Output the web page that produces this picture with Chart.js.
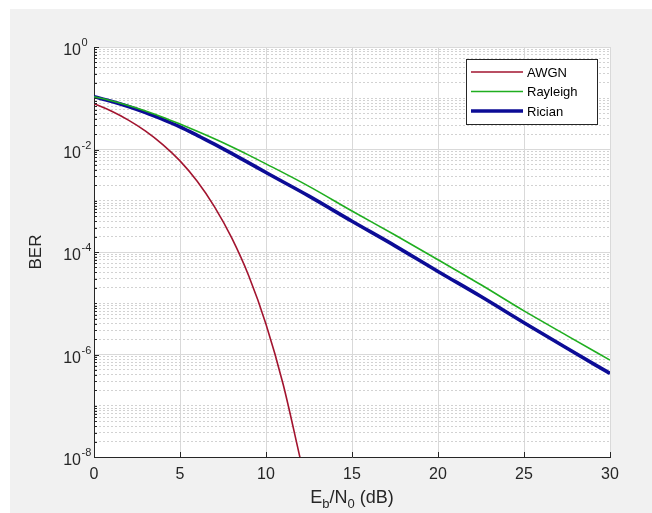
<!DOCTYPE html>
<html>
<head>
<meta charset="utf-8">
<script src="https://cdn.jsdelivr.net/npm/chart.js@4.4.0/dist/chart.umd.min.js"></script>
<style>
  body { margin: 0; background: #fff; }
</style>
</head>
<body>
<canvas id="berChart" width="652" height="513"></canvas>
<script>
// values
const snrAwgn = [0, 1, 2, 3, 4, 5, 6, 7, 8, 9, 10, 11, 12];
const berAwgn = [0.0786, 0.0563, 0.0375, 0.0229, 0.0125, 0.0060, 0.0024, 7.7e-4, 1.9e-4, 3.4e-5, 3.9e-6, 2.6e-7, 9.0e-9];

const snrFading = [0, 1, 2, 3, 4, 5, 6, 7, 8, 9, 10, 12.5, 15, 17.5, 20, 22.5, 25, 27.5, 30];
const berRayleigh = [0.1072, 0.0895, 0.0723, 0.0565, 0.0428, 0.0313, 0.0226, 0.01614, 0.0113, 7.76e-3, 5.25e-3,
    1.91e-3, 6.31e-4, 2.14e-4, 7.08e-5, 2.29e-5, 7.08e-6, 2.34e-6, 7.76e-7];
const berRician = [0.1072, 0.0875, 0.0689, 0.0525, 0.0386, 0.0277, 0.0189, 0.01268, 8.41e-3, 5.5e-3, 3.55e-3,
    1.23e-3, 3.98e-4, 1.32e-4, 4.17e-5, 1.35e-5, 4.17e-6, 1.32e-6, 4.27e-7];

const xTicks = [0, 5, 10, 15, 20, 25, 30];
const yExponents = [0, -2, -4, -6, -8];
const seriesNames = ['AWGN', 'Rayleigh', 'Rician'];
const seriesColors = ['#a2142f', '#1fae1f', '#0c0c96'];
const seriesWidths = [1.6, 1.6, 3.6];

const FONT = '"Liberation Sans", Arial, Helvetica, sans-serif';

function toPoints(xs, ys) {
    return xs.map((x, i) => ({x: x, y: ys[i]}));
}

function isMajor(v) {
    const l = Math.log10(v);
    const r = Math.round(l);
    return Math.abs(l - r) < 1e-6 && r % 2 === 0;
}

// text with subscript parts, centred on cx
function drawParts(ctx, parts, cx, baseline, size) {
    const subSize = Math.round(size * 0.72);
    let w = 0;
    parts.forEach(p => {
        ctx.font = (p.sub ? subSize : size) + 'px ' + FONT;
        p.w = ctx.measureText(p.t).width;
        w += p.w;
    });
    let x = cx - w / 2;
    ctx.textAlign = 'left';
    ctx.textBaseline = 'alphabetic';
    parts.forEach(p => {
        ctx.font = (p.sub ? subSize : size) + 'px ' + FONT;
        ctx.fillText(p.t, x, p.sub ? baseline + 5 : baseline);
        x += p.w;
    });
}

const decorations = {
    id: 'decorations',
    beforeDraw(chart) {
        const {ctx, chartArea: a} = chart;
        ctx.save();
        ctx.fillStyle = '#ffffff';
        ctx.fillRect(0, 0, chart.width, chart.height);
        ctx.fillStyle = '#f1f1f1';
        ctx.fillRect(10, 9, chart.width - 10, chart.height - 9);
        ctx.fillStyle = '#ffffff';
        ctx.fillRect(a.left, a.top, a.right - a.left, a.bottom - a.top);
        ctx.restore();
    },
    afterDraw(chart) {
        const {ctx, chartArea: a} = chart;
        const xs = chart.scales.x;
        const ys = chart.scales.y;
        ctx.save();

        // inward tick marks
        ctx.strokeStyle = '#262626';
        ctx.lineWidth = 1;
        ctx.beginPath();
        ys.ticks.forEach(t => {
            const y = Math.round(ys.getPixelForValue(t.value)) + 0.5;
            const len = isMajor(t.value) ? 5 : 3;
            ctx.moveTo(a.left, y);
            ctx.lineTo(a.left + len, y);
        });
        xTicks.forEach(v => {
            const x = Math.round(xs.getPixelForValue(v)) + 0.5;
            ctx.moveTo(x, a.bottom);
            ctx.lineTo(x, a.bottom - 5);
        });
        ctx.stroke();

        // tick labels
        ctx.fillStyle = '#262626';
        ctx.font = '16px ' + FONT;
        ctx.textAlign = 'center';
        ctx.textBaseline = 'middle';
        xTicks.forEach(v => {
            ctx.fillText(String(v), xs.getPixelForValue(v), a.bottom + 18);
        });
        yExponents.forEach(e => {
            const y = ys.getPixelForValue(Math.pow(10, e));
            ctx.font = '16px ' + FONT;
            ctx.textAlign = 'right';
            ctx.textBaseline = 'middle';
            ctx.fillText('10', 81, y + 4);
            ctx.font = '11px ' + FONT;
            ctx.textAlign = 'left';
            ctx.fillText(String(e), 81.5, y - 4);
        });

        // axis titles
        drawParts(ctx, [{t: 'E'}, {t: 'b', sub: true}, {t: '/N'}, {t: '0', sub: true}, {t: ' (dB)'}],
            (a.left + a.right) / 2, 503, 18);
        ctx.save();
        ctx.translate(36, (a.top + a.bottom) / 2);
        ctx.rotate(-Math.PI / 2);
        ctx.font = '17px ' + FONT;
        ctx.textAlign = 'center';
        ctx.textBaseline = 'middle';
        ctx.fillText('BER', 0, 0);
        ctx.restore();

        // legend
        const lx = 466, ly = 59, lw = 131, lh = 65;
        ctx.fillStyle = '#ffffff';
        ctx.fillRect(lx, ly, lw, lh);
        ctx.strokeStyle = '#262626';
        ctx.lineWidth = 1;
        ctx.strokeRect(lx + 0.5, ly + 0.5, lw, lh);
        seriesNames.forEach((name, i) => {
            const y = ly + 13 + i * 19.5;
            ctx.strokeStyle = seriesColors[i];
            ctx.lineWidth = seriesWidths[i];
            ctx.beginPath();
            ctx.moveTo(lx + 5, y);
            ctx.lineTo(lx + 57, y);
            ctx.stroke();
            ctx.fillStyle = '#000000';
            ctx.font = '13px ' + FONT;
            ctx.textAlign = 'left';
            ctx.textBaseline = 'middle';
            ctx.fillText(name, lx + 61, y + 1);
        });
        ctx.restore();
    }
};

const ctx = document.getElementById('berChart').getContext('2d');
const berChart = new Chart(ctx, {
    type: 'line',
    data: {
        datasets: [
            {label: seriesNames[0], data: toPoints(snrAwgn, berAwgn)},
            {label: seriesNames[1], data: toPoints(snrFading, berRayleigh)},
            {label: seriesNames[2], data: toPoints(snrFading, berRician)}
        ].map((d, i) => Object.assign(d, {
            borderColor: seriesColors[i],
            borderWidth: seriesWidths[i],
            pointRadius: 0,
            fill: false,
            cubicInterpolationMode: 'monotone'
        }))
    },
    options: {
        responsive: false,
        animation: false,
        layout: {
            padding: {left: 94, top: 47, right: 42, bottom: 56}
        },
        plugins: {
            legend: {display: false},
            tooltip: {enabled: false}
        },
        scales: {
            x: {
                type: 'linear',
                min: 0,
                max: 30,
                ticks: {display: false, stepSize: 5},
                grid: {
                    drawTicks: false,
                    color: c => (c.tick && c.tick.value === 0) ? 'rgba(0,0,0,0)' : '#d9d9d9'
                },
                border: {display: true, color: '#262626', width: 1},
                afterFit: s => { s.height = 0; }
            },
            y: {
                type: 'logarithmic',
                min: 1e-8,
                max: 1,
                ticks: {display: false},
                afterBuildTicks: s => {
                    const t = [];
                    for (let k = -8; k <= 0; k++) {
                        for (let m = 1; m <= 9; m++) {
                            const v = m * Math.pow(10, k);
                            if (v <= 1.0000001) t.push({value: v});
                        }
                    }
                    s.ticks = t;
                },
                grid: {
                    drawTicks: false,
                    color: c => {
                        if (!c.tick) return '#d9d9d9';
                        if (c.tick.value < 1.0001e-8) return 'rgba(0,0,0,0)';
                        return isMajor(c.tick.value) ? '#d9d9d9' : '#d2d2d2';
                    }
                },
                border: {
                    display: true,
                    color: '#262626',
                    width: 1,
                    dash: c => (c.tick && !isMajor(c.tick.value)) ? [2, 2] : []
                },
                afterFit: s => { s.width = 0; }
            }
        }
    },
    plugins: [decorations]
});
</script>
</body>
</html>
